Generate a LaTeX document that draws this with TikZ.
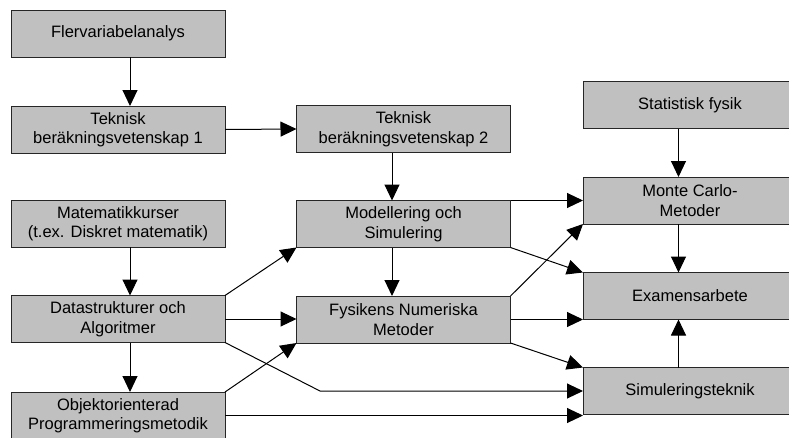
\documentclass[tikz,border=0pt]{standalone}
\usepackage{fontspec}
\setmainfont{Liberation Sans}
\usepackage{tikz}
\usetikzlibrary{arrows.meta}
\definecolor{kursgrau}{HTML}{C0C0C0}
\tikzset{
  kursbox/.style={draw=black!85, fill=kursgrau, line width=1pt,
    minimum width=214pt, minimum height=47pt, inner sep=0pt, outer sep=0pt,
    align=center, font=\fontsize{16.5}{19.5}\selectfont},
  pil/.style={line width=1pt, -{Triangle[length=16pt,width=15pt]}}
}
\newcommand{\kurs}[4]{\node[kursbox] (#1) at ( #2 , #3 ) {#4};}
\begin{document}
\begin{tikzpicture}[x=1pt,y=-1pt]
        \useasboundingbox (0,0) rectangle (789,437);
        % left column
        \kurs{flerv}{118}{33.5}{Flervariabelanalys}
        \kurs{tbA}{118}{129.5}{Teknisk\\beräkningsvetenskap 1}
        \kurs{mat}{118}{223.5}{Matematikkurser\\(t.ex. Diskret matematik)}
        \kurs{data}{118}{319}{Datastrukturer och\\Algoritmer}
        \kurs{obj}{118}{415.5}{Objektorienterad\\Programmeringsmetodik}
        % middle column
        \kurs{tbB}{403.5}{129}{Teknisk\\beräkningsvetenskap 2}
        \kurs{mod}{403.5}{224}{Modellering och\\Simulering}
        \kurs{fys}{403.5}{319.5}{Fysikens Numeriska\\Metoder}
        % right column
        \kurs{stat}{690}{105}{Statistisk fysik}
        \kurs{mc}{690}{200.5}{Monte Carlo-\\Metoder}
        \kurs{exam}{690}{296}{Examensarbete}
        \kurs{sim}{690}{391}{Simuleringsteknik}

        % vertical arrows
        \draw[pil] ([xshift=12]flerv.south) -- ([xshift=12]tbA.north);
        \draw[pil] ([xshift=12]mat.south) -- ([xshift=12]data.north);
        \draw[pil] ([xshift=12]data.south) -- ([xshift=12]obj.north);
        \draw[pil] ([xshift=-11.5]tbB.south) -- ([xshift=-11.5]mod.north);
        \draw[pil] ([xshift=-11.5]mod.south) -- ([xshift=-11.5]fys.north);
        \draw[pil] ([xshift=-11.5]stat.south) -- ([xshift=-11.5]mc.north);
        \draw[pil] ([xshift=-11.5]mc.south) -- ([xshift=-11.5]exam.north);
        \draw[pil] ([xshift=-11.5]sim.north) -- ([xshift=-11.5]exam.south);

        % horizontal arrows
        \draw[pil] (tbA.east) -- (tbB.west);
        \draw[pil] (data.east) -- (data.east -| fys.west);
        \draw[pil] (mod.north east) -- (mod.north east -| mc.west);
        \draw[pil] (fys.east) -- (fys.east -| exam.west);
        \draw[pil] (obj.east) -- (obj.east -| sim.west);
        \coordinate (knick) at (320,391);
        \draw[pil] (data.south east) -- (knick) -- (knick -| sim.west);

        % diagonal arrows
        \draw[pil] (data.north east) -- (mod.south west);
        \draw[pil] (obj.north east) -- (fys.south west);
        \draw[pil] (mod.south east) -- (exam.north west);
        \draw[pil] (fys.north east) -- (mc.south west);
        \draw[pil] (fys.south east) -- (sim.north west);
\end{tikzpicture}
\end{document}
